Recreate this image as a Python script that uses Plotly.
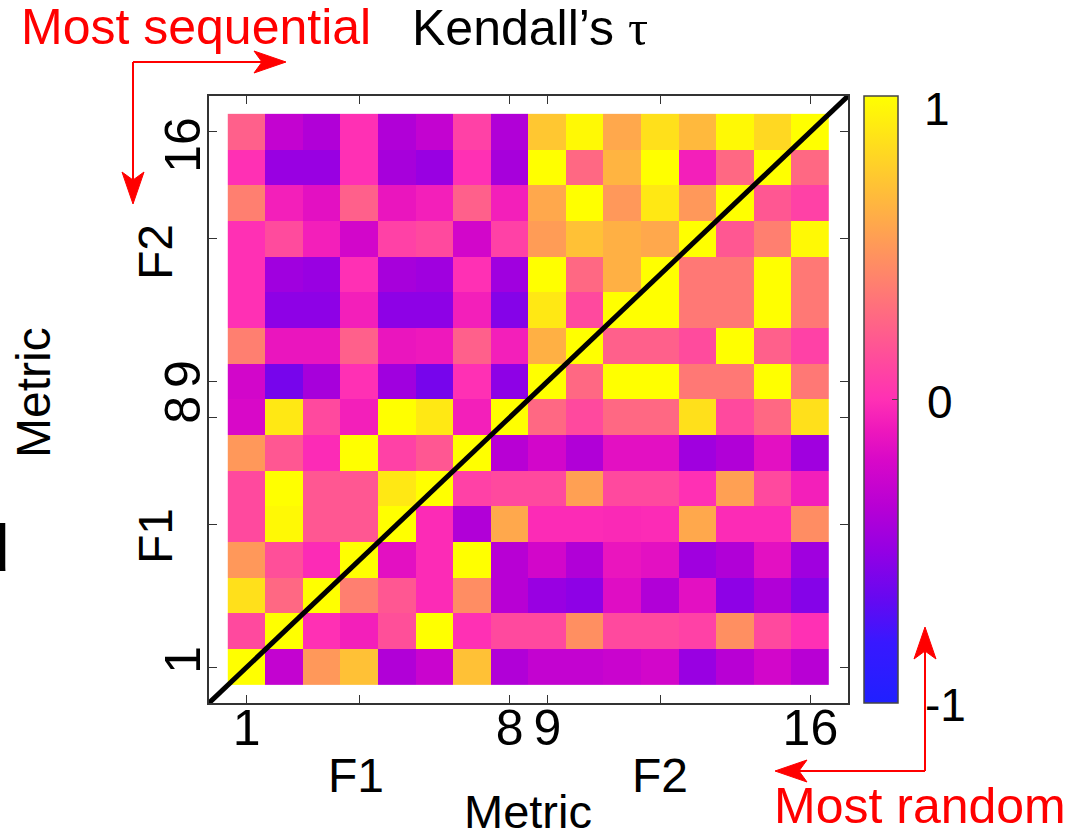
import plotly.graph_objects as go

# Kendall's tau between metrics; rows are listed bottom (metric 1) to top (metric 16)
metrics = list(range(1, 17))

tau_m01 = [1.00, -0.30, 0.50, 0.70, -0.38, -0.27, 0.70, -0.38, -0.30, -0.30, -0.27, -0.23, -0.48, -0.35, -0.23, -0.35]
tau_m02 = [0.12, 1.00, 0.00, -0.07, 0.15, 1.00, 0.00, 0.12, 0.12, 0.46, 0.12, 0.12, 0.08, 0.46, 0.12, 0.00]
tau_m03 = [0.85, 0.27, 1.00, 0.38, 0.19, -0.02, 0.45, -0.35, -0.48, -0.52, -0.17, -0.38, -0.15, -0.52, -0.38, -0.55]
tau_m04 = [0.50, 0.15, -0.02, 1.00, -0.15, -0.02, 1.00, -0.35, -0.23, -0.38, -0.12, -0.15, -0.45, -0.38, -0.15, -0.45]
tau_m05 = [0.12, 0.97, 0.19, 0.19, 1.00, -0.02, -0.38, 0.58, -0.02, -0.02, -0.03, -0.02, 0.58, -0.02, -0.02, 0.45]
tau_m06 = [0.12, 1.00, 0.19, 0.19, 0.89, 1.00, 0.08, 0.12, 0.12, 0.54, 0.12, 0.12, 0.00, 0.54, 0.12, -0.07]
tau_m07 = [0.50, 0.19, -0.02, 1.00, 0.08, 0.19, 1.00, -0.35, -0.23, -0.38, -0.15, -0.15, -0.45, -0.38, -0.15, -0.45]
tau_m08 = [-0.20, 0.89, 0.12, -0.07, 1.00, 0.89, -0.07, 1.00, 0.27, 0.12, 0.27, 0.27, 0.85, 0.12, 0.27, 0.85]
tau_m09 = [-0.23, -0.60, -0.42, 0.00, -0.45, -0.60, 0.00, -0.52, 1.00, 0.27, 1.00, 1.00, 0.35, 0.35, 1.00, 0.35]
tau_m10 = [0.38, -0.12, -0.12, 0.23, -0.12, -0.10, 0.23, -0.07, 0.62, 1.00, 0.23, 0.23, 0.13, 1.00, 0.23, 0.08]
tau_m11 = [0.00, -0.52, -0.52, -0.07, -0.52, -0.52, -0.07, -0.55, 0.89, 0.12, 1.00, 1.00, 0.35, 0.35, 1.00, 0.35]
tau_m12 = [0.00, -0.45, -0.48, 0.00, -0.42, -0.45, 0.00, -0.45, 1.00, 0.27, 0.62, 1.00, 0.35, 0.35, 1.00, 0.35]
tau_m13 = [0.00, 0.13, -0.07, -0.23, 0.08, 0.12, -0.23, 0.08, 0.52, 0.70, 0.62, 0.58, 1.00, 0.19, 0.38, 0.97]
tau_m14 = [0.38, -0.07, -0.15, 0.23, -0.12, -0.07, 0.23, -0.07, 0.58, 1.00, 0.50, 0.89, 0.50, 1.00, 0.19, 0.08]
tau_m15 = [0.00, -0.48, -0.48, 0.00, -0.42, -0.48, 0.00, -0.42, 1.00, 0.27, 0.64, 1.00, -0.07, 0.27, 1.00, 0.27]
tau_m16 = [0.23, -0.30, -0.38, 0.00, -0.38, -0.30, 0.08, -0.38, 0.73, 0.97, 0.58, 0.85, 0.66, 0.97, 0.81, 1.00]

tau = [tau_m01, tau_m02, tau_m03, tau_m04, tau_m05, tau_m06, tau_m07, tau_m08,
       tau_m09, tau_m10, tau_m11, tau_m12, tau_m13, tau_m14, tau_m15, tau_m16]

NBSP = "\u00a0"
x_tick_vals = [1, 4, 8, 9, 12, 16]
x_tick_text = ["1", "", "8", "9", "", "16"]
y_tick_vals = [1, 5, 8, 9, 13, 16]
# trailing padding pushes the rotated top label down, away from the frame corner
y_tick_text = ["1", "", "8", "9", "", "16" + NBSP * 3]

cbar_vals = [-1, 0, 1]
cbar_text = ["-1", "0", "1"]

# blue -> purple -> magenta -> pink -> orange -> yellow
tau_scale = [
    [0.00, "#2020ff"],
    [0.10, "#3818ff"],
    [0.175, "#6808f0"],
    [0.25, "#9400e4"],
    [0.325, "#b800d4"],
    [0.40, "#d808c8"],
    [0.45, "#ee18bc"],
    [0.50, "#ff30b4"],
    [1.00, "#ffff00"],
]

FONT = "Liberation Sans, Arial, Helvetica, sans-serif"
SERIF = "Liberation Serif, Times New Roman, serif"
RED = "#ff0000"

# plot-area geometry in pixels
W, H = 1082, 839
L, R, T, B = 209, 848, 96, 703
PW, PH = R - L, B - T


def px(x):
    return (x - L) / PW


def py(y):
    return (B - y) / PH


n = len(metrics)
axis_span = [0, n + 1]

fig = go.Figure()

fig.add_trace(go.Heatmap(
    z=tau, x=metrics, y=metrics,
    zmin=-1, zmax=1, colorscale=tau_scale,
    colorbar=dict(
        x=px(864), xanchor="left", xref="paper",
        y=0.5, yanchor="middle", len=1.0, lenmode="fraction",
        thickness=34, thicknessmode="pixels",
        xpad=0, ypad=0,
        outlinewidth=1.5, outlinecolor="#444444",
        tickvals=cbar_vals, ticks="inside", ticklen=6, tickcolor="#444444",
        showticklabels=False,
    ),
    showscale=True,
))

# identity diagonal across the whole axis box
fig.add_trace(go.Scatter(
    x=axis_span, y=axis_span, mode="lines",
    line=dict(color="black", width=5), showlegend=False, hoverinfo="skip",
))

axis_common = dict(
    range=axis_span, showgrid=False, zeroline=False,
    showline=True, linecolor="#333333", linewidth=1.5, mirror="ticks",
    ticks="inside", ticklen=8, tickcolor="#333333", tickwidth=1,
    tickfont=dict(family=FONT, size=50, color="black"),
)

fig.update_layout(
    width=W, height=H,
    margin=dict(l=L, r=W - R, t=T, b=H - B, pad=0),
    paper_bgcolor="white", plot_bgcolor="white",
    showlegend=False,
    xaxis=dict(axis_common, tickvals=x_tick_vals, ticktext=x_tick_text,
               ticklabelstandoff=-20),
    yaxis=dict(axis_common, tickvals=y_tick_vals, ticktext=y_tick_text,
               tickangle=-90, ticklabelstandoff=-13),
)

title_text = "Kendall\u2019s <span style='font-family:" + SERIF + "'>\u03c4</span>"

annotations = [
    dict(text=title_text, x=px(530), y=py(28), size=50, color="black", angle=0),
    dict(text="Most sequential", x=px(196), y=py(27), size=50, color=RED, angle=0),
    dict(text="Most random", x=px(920), y=py(806), size=50, color=RED, angle=0),
    dict(text="Metric", x=px(33), y=py(393), size=48, color="black", angle=-90),
    dict(text="F1", x=px(356), y=py(775), size=48, color="black", angle=0),
    dict(text="F2", x=px(660), y=py(775), size=48, color="black", angle=0),
    dict(text="F1", x=px(155), y=py(536), size=48, color="black", angle=-90),
    dict(text="F2", x=px(155), y=py(252), size=48, color="black", angle=-90),
    dict(text=cbar_text[2], x=px(937), y=py(109), size=46, color="black", angle=0),
    dict(text=cbar_text[1], x=px(940), y=py(402), size=46, color="black", angle=0),
    dict(text=cbar_text[0], x=px(945), y=py(705), size=46, color="black", angle=0),
]
for a in annotations:
    fig.add_annotation(
        text=a["text"], x=a["x"], y=a["y"], xref="paper", yref="paper",
        xanchor="center", yanchor="middle", showarrow=False,
        textangle=a["angle"],
        font=dict(family=FONT, size=a["size"], color=a["color"]),
    )

# x-axis title sits on the bottom edge of the canvas
fig.add_annotation(
    text="Metric", x=px(528), y=py(H), xref="paper", yref="paper",
    xanchor="center", yanchor="bottom", showarrow=False, borderpad=0,
    font=dict(family=FONT, size=47, color="black"),
)

# clipped glyph at the left edge of the canvas
fig.add_annotation(
    text="d", x=px(12), y=py(548), xref="paper", yref="paper",
    xanchor="right", yanchor="middle", showarrow=False,
    font=dict(family=FONT, size=66, color="black"),
)


def red_arrow(x0, y0, x1, y1, head=32, half=11, notch=8):
    """Red line with a notched filled head, coordinates in canvas pixels."""
    dx, dy = x1 - x0, y1 - y0
    length = (dx * dx + dy * dy) ** 0.5
    ux, uy = dx / length, dy / length
    nx, ny = -uy, ux
    bx, by = x1 - ux * head, y1 - uy * head
    mx, my = x1 - ux * (head - notch), y1 - uy * (head - notch)
    fig.add_shape(type="line", xref="paper", yref="paper",
                  x0=px(x0), y0=py(y0), x1=px(mx), y1=py(my),
                  line=dict(color=RED, width=2))
    pts = [(x1, y1), (bx + nx * half, by + ny * half), (mx, my), (bx - nx * half, by - ny * half)]
    path = "M " + " L ".join(f"{px(a)},{py(b)}" for a, b in pts) + " Z"
    fig.add_shape(type="path", xref="paper", yref="paper", path=path,
                  fillcolor=RED, line=dict(color=RED, width=1))


red_arrow(133, 62, 286, 62)
red_arrow(133, 62, 133, 204)
red_arrow(925, 771, 925, 627)
red_arrow(925, 771, 775, 771)

fig.write_html("out.html")
